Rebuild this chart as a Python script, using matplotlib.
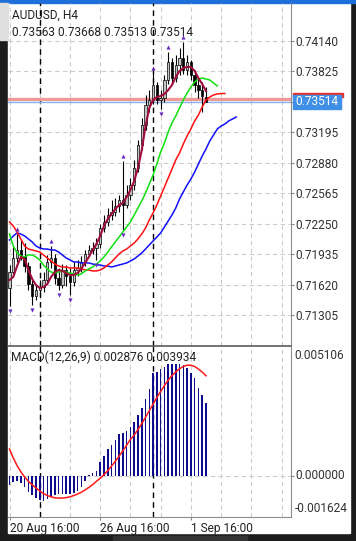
#!/usr/bin/env python3
"""AUDUSD H4 chart with Alligator, fractals and MACD (MT mobile look)."""

import numpy as np
import matplotlib
matplotlib.use("Agg")
import matplotlib.pyplot as plt
from matplotlib.patches import Rectangle

plt.rcParams['font.family'] = ['Roboto', 'DejaVu Sans']

# ---------------------------------------------------------------------------
# Data
# ---------------------------------------------------------------------------

symbol = "AUDUSD, H4"

opens = [0.71586, 0.71751, 0.71896, 0.71979, 0.71917, 0.71813, 0.71627, 0.71503,
         0.71565, 0.71596, 0.71669, 0.71855, 0.71896, 0.71689, 0.71617, 0.71772,
         0.71710, 0.71648, 0.71772, 0.71793, 0.71855, 0.71938, 0.71979, 0.72000,
         0.72041, 0.72206, 0.72268, 0.72341, 0.72372, 0.72434, 0.72496, 0.72444,
         0.72548, 0.72651, 0.72827, 0.73065, 0.73271, 0.73478, 0.73530, 0.73685,
         0.73530, 0.73551, 0.73737, 0.73923, 0.73757, 0.73892, 0.73964, 0.73840,
         0.73923, 0.73788, 0.73685, 0.73633, 0.73563]
highs = [0.71824, 0.72010, 0.72144, 0.72082, 0.72051, 0.71855, 0.71669, 0.71617,
         0.71669, 0.71751, 0.71927, 0.72020, 0.71938, 0.71793, 0.71834, 0.71824,
         0.71793, 0.71855, 0.71876, 0.71917, 0.71979, 0.72031, 0.72062, 0.72103,
         0.72248, 0.72341, 0.72413, 0.72496, 0.72517, 0.72548, 0.72899, 0.72651,
         0.72723, 0.72910, 0.73116, 0.73344, 0.73582, 0.73633, 0.73809, 0.73716,
         0.73633, 0.73788, 0.74026, 0.73964, 0.73995, 0.74068, 0.74130, 0.73995,
         0.73944, 0.73840, 0.73757, 0.73716, 0.73668]
lows = [0.71400, 0.71710, 0.71855, 0.71876, 0.71751, 0.71565, 0.71410, 0.71462,
        0.71503, 0.71545, 0.71627, 0.71793, 0.71627, 0.71565, 0.71586, 0.71607,
        0.71514, 0.71607, 0.71710, 0.71751, 0.71813, 0.71917, 0.71938, 0.71876,
        0.72000, 0.72165, 0.72227, 0.72289, 0.72331, 0.72372, 0.72186, 0.72413,
        0.72496, 0.72599, 0.72785, 0.73013, 0.73220, 0.73406, 0.73489, 0.73489,
        0.73437, 0.73509, 0.73695, 0.73695, 0.73716, 0.73788, 0.73799, 0.73788,
        0.73737, 0.73613, 0.73551, 0.73406, 0.73513]
closes = [0.71751, 0.71896, 0.71979, 0.71917, 0.71813, 0.71627, 0.71503, 0.71565,
          0.71596, 0.71669, 0.71855, 0.71896, 0.71689, 0.71617, 0.71772, 0.71710,
          0.71648, 0.71772, 0.71793, 0.71855, 0.71938, 0.71979, 0.72000, 0.72041,
          0.72206, 0.72268, 0.72341, 0.72372, 0.72434, 0.72496, 0.72444, 0.72548,
          0.72651, 0.72827, 0.73065, 0.73271, 0.73478, 0.73530, 0.73685, 0.73530,
          0.73551, 0.73737, 0.73923, 0.73757, 0.73892, 0.73964, 0.73840, 0.73923,
          0.73788, 0.73685, 0.73633, 0.73571, 0.73514]

# fast MA riding on the candles (maroon)
fast_ma = [0.71669, 0.71700, 0.71813, 0.71907, 0.71886, 0.71772, 0.71679, 0.71617,
           0.71586, 0.71596, 0.71627, 0.71700, 0.71751, 0.71772, 0.71762, 0.71741,
           0.71720, 0.71720, 0.71741, 0.71783, 0.71845, 0.71907, 0.71979, 0.72041,
           0.72124, 0.72227, 0.72300, 0.72351, 0.72403, 0.72444, 0.72465, 0.72527,
           0.72599, 0.72692, 0.72827, 0.73013, 0.73261, 0.73447, 0.73530, 0.73561,
           0.73571, 0.73592, 0.73633, 0.73685, 0.73768, 0.73830, 0.73861, 0.73871,
           0.73871, 0.73830, 0.73757, 0.73695, 0.73623]

# Alligator: jaw (blue, shifted 8), teeth (red, shifted 5), lips (green, shifted 3)
jaw = [0.72082, 0.72124, 0.72155, 0.72144, 0.72124, 0.72093, 0.72062, 0.72020,
       0.72000, 0.71989, 0.71989, 0.71979, 0.71979, 0.71958, 0.71927, 0.71896,
       0.71876, 0.71855, 0.71855, 0.71845, 0.71845, 0.71845, 0.71834, 0.71824,
       0.71824, 0.71813, 0.71813, 0.71803, 0.71813, 0.71824, 0.71834, 0.71845,
       0.71865, 0.71886, 0.71917, 0.71948, 0.71989, 0.72031, 0.72072, 0.72113,
       0.72155, 0.72217, 0.72279, 0.72341, 0.72413, 0.72506, 0.72579, 0.72651,
       0.72713, 0.72785, 0.72868, 0.72951, 0.73023, 0.73106, 0.73168, 0.73230,
       0.73261, 0.73282, 0.73313, 0.73333, 0.73354]
teeth = [0.72268, 0.72227, 0.72165, 0.72093, 0.72020, 0.71989, 0.71979, 0.71969,
         0.71958, 0.71927, 0.71896, 0.71865, 0.71834, 0.71813, 0.71803, 0.71803,
         0.71793, 0.71793, 0.71793, 0.71783, 0.71772, 0.71772, 0.71762, 0.71762,
         0.71772, 0.71793, 0.71824, 0.71855, 0.71896, 0.71938, 0.71969, 0.71989,
         0.72020, 0.72051, 0.72093, 0.72144, 0.72206, 0.72289, 0.72362, 0.72444,
         0.72537, 0.72630, 0.72723, 0.72816, 0.72910, 0.72982, 0.73075, 0.73158,
         0.73230, 0.73313, 0.73375, 0.73458, 0.73530, 0.73561, 0.73582, 0.73592,
         0.73597, 0.73597]
lips = [0.72144, 0.72020, 0.71948, 0.71917, 0.71907, 0.71927, 0.71927, 0.71907,
        0.71876, 0.71824, 0.71783, 0.71751, 0.71741, 0.71751, 0.71762, 0.71751,
        0.71741, 0.71731, 0.71720, 0.71731, 0.71762, 0.71783, 0.71803, 0.71834,
        0.71865, 0.71907, 0.71958, 0.72010, 0.72062, 0.72113, 0.72165, 0.72217,
        0.72268, 0.72341, 0.72413, 0.72486, 0.72568, 0.72661, 0.72754, 0.72868,
        0.72992, 0.73085, 0.73199, 0.73292, 0.73365, 0.73447, 0.73530, 0.73602,
        0.73664, 0.73716, 0.73747, 0.73757, 0.73747, 0.73737, 0.73706, 0.73675]

fractal_up = [2, 11, 30, 38, 42, 46]
fractal_down = [0, 6, 13, 16, 23, 30, 40]

ask_price = 0.73542
bid_price = 0.73514

price_ticks = [0.74140, 0.73825, 0.73510, 0.73195, 0.72880,
               0.72565, 0.72250, 0.71935, 0.71620, 0.71305]

week_separators = [8, 38]
time_ticks = [0, 24, 48]
time_labels = ["20 Aug 16:00", "26 Aug 16:00", "1 Sep 16:00"]

macd_main = [-0.00038, -0.00025, -0.00022, -0.00028, -0.00045, -0.00064, -0.00077, -0.00086,
             -0.00095, -0.00101, -0.00093, -0.00084, -0.00077, -0.00073, -0.00073, -0.00071,
             -0.00070, -0.00066, -0.00060, -0.00045, -0.00022, 0.00004, 0.00010, 0.00017,
             0.00054, 0.00079, 0.00105, 0.00122, 0.00141, 0.00164, 0.00168, 0.00177,
             0.00190, 0.00213, 0.00240, 0.00266, 0.00301, 0.00340, 0.00403, 0.00410,
             0.00419, 0.00427, 0.00439, 0.00439, 0.00439, 0.00439, 0.00436, 0.00425,
             0.00403, 0.00384, 0.00347, 0.00318, 0.002876]
macd_signal = [0.00105, 0.00070, 0.00040, 0.00015, -0.00005, -0.00022, -0.00036, -0.00048,
               -0.00060, -0.00070, -0.00078, -0.00083, -0.00087, -0.00088, -0.00088, -0.00086,
               -0.00083, -0.00078, -0.00072, -0.00065, -0.00056, -0.00046, -0.00035, -0.00022,
               -0.00010, 0.00004, 0.00020, 0.00038, 0.00057, 0.00077, 0.00098, 0.00120,
               0.00143, 0.00160, 0.00182, 0.00205, 0.00230, 0.00256, 0.00282, 0.00308,
               0.00332, 0.00355, 0.00376, 0.00394, 0.00409, 0.00421, 0.00430, 0.00435,
               0.00435, 0.00430, 0.00420, 0.00408, 0.003934]
macd_range = (-0.001624, 0.005106)

# ---------------------------------------------------------------------------
# Figure
# ---------------------------------------------------------------------------

W, H = 356, 541


def fx(x):
    return x / W


def fy(y):
    return 1 - y / H


fig = plt.figure(figsize=(W / 100, H / 100), dpi=100, facecolor="#1c1c1c")
fig.add_artist(Rectangle((fx(8), fy(533)), (350 - 8) / W, 530 / H,
                         transform=fig.transFigure, color="white", zorder=0))
fig.add_artist(Rectangle((0, fy(3)), 1, 3 / H, transform=fig.transFigure,
                         color="#1e6fd9", zorder=0))
fig.add_artist(Rectangle((0, fy(40)), fx(8), 37 / H, transform=fig.transFigure,
                         color="#dedede", zorder=0))
fig.add_artist(Rectangle((fx(113), 0), 134 / W, 5 / H, transform=fig.transFigure,
                         color="#333333", zorder=0))

grid_kw = dict(color="#cccccc", lw=0.8, ls=(0, (4, 3)), zorder=0)
sep_kw = dict(color="black", lw=1.0, ls=(0, (4, 3)), zorder=1)
xlim = (-0.4, 74.5)

# --- price panel -----------------------------------------------------------
ax = fig.add_axes([fx(8), fy(346), 283 / W, 343 / H])
ax.set_facecolor("none")
ax.set_xlim(*xlim)
ax.set_ylim(0.70986, 0.74533)

for x in range(0, 75, 8):
    ax.axvline(x, **grid_kw)
for p in price_ticks:
    ax.axhline(p, **grid_kw)
for x in week_separators:
    ax.axvline(x, **sep_kw)

ax.axhline(ask_price, color="#f29a9a", lw=2.4, zorder=1)
ax.axhline(bid_price, color="#8ab4ee", lw=1.0, zorder=1)

o, h, l, c = map(np.array, (opens, highs, lows, closes))
idx = np.arange(len(o))
ax.vlines(idx, l, h, color="black", lw=0.8, zorder=3)
body = np.maximum(np.abs(c - o), 0.00003)
ax.bar(idx, body, bottom=np.minimum(o, c), width=0.62,
       color=np.where(c >= o, "#c4c4c4", "black"), edgecolor="black",
       linewidth=0.5, zorder=4)

ax.plot(np.arange(len(jaw)), jaw, color="#1010ff", lw=1.1, zorder=5)
ax.plot(np.arange(len(teeth)), teeth, color="#ff1010", lw=1.1, zorder=5)
ax.plot(np.arange(len(lips)), lips, color="#10e010", lw=1.1, zorder=5)
ax.plot(idx, fast_ma, color="#a00c3c", lw=1.5, zorder=6)

ax.scatter(fractal_up, h[fractal_up] + 0.0005, marker="^", s=9,
           color="#6a2bc4", zorder=7, linewidths=0)
ax.scatter(fractal_down, l[fractal_down] - 0.0005, marker="v", s=9,
           color="#6a2bc4", zorder=7, linewidths=0)

# the label under the current-price tag is hidden in the app
ax.yaxis.tick_right()
ax.set_yticks(price_ticks)
ax.set_yticklabels(["" if abs(p - bid_price) < 0.0002 else f"{p:.5f}" for p in price_ticks])
ax.tick_params(axis="y", length=2.2, width=0.8, color="#888888", pad=0.6,
               labelsize=8.6, labelcolor="#333333")
ax.set_xticks([])
for s in ("left", "top"):
    ax.spines[s].set_visible(False)
ax.spines["right"].set_color("#8c8c8c")
ax.spines["bottom"].set_color("#5a5a5a")
ax.spines["bottom"].set_linewidth(1.2)

fig.text(fx(12), fy(15), symbol, ha="left", va="center", fontsize=8.6, color="#222222")
fig.text(fx(12), fy(33), f"{opens[-1]:.5f} {highs[-1]:.5f} {lows[-1]:.5f} {closes[-1]:.5f}",
         ha="left", va="center", fontsize=8.6, color="#222222")

# current-price tag
fig.add_artist(Rectangle((fx(293), fy(96.5)), 50 / W, 4 / H, transform=fig.transFigure,
                         color="#e8302a", zorder=5))
fig.add_artist(Rectangle((fx(293), fy(108.5)), 48 / W, 14 / H, transform=fig.transFigure,
                         color="#3f8fe6", zorder=6))
fig.text(fx(317), fy(101.5), f"{bid_price:.5f}", ha="center", va="center",
         fontsize=8.6, color="white", zorder=7)

# --- MACD panel --------------------------------------------------------------
ax2 = fig.add_axes([fx(8), fy(517), 283 / W, 171 / H])
ax2.set_facecolor("none")
ax2.set_xlim(*xlim)
ax2.set_ylim(*macd_range)

for x in range(0, 75, 8):
    ax2.axvline(x, **grid_kw)
for x in week_separators:
    ax2.axvline(x, **sep_kw)
ax2.axhline(0, **grid_kw)

ax2.bar(np.arange(len(macd_main)), macd_main, width=0.42, color="#0c0c8c", zorder=3)
ax2.plot(np.arange(len(macd_signal)), macd_signal, color="#ff1a1a", lw=1.1, zorder=4)

ax2.yaxis.tick_right()
ax2.set_yticks([0])
ax2.set_yticklabels([""])
ax2.tick_params(axis="y", length=2.2, width=0.8, color="#888888")
lab_kw = dict(xycoords=("axes fraction", "data"), textcoords="offset points",
              ha="left", fontsize=8.6, color="#333333", annotation_clip=False)
ax2.annotate(f"{macd_range[1]:.6f}", xy=(1, macd_range[1]), xytext=(2.5, -2.5), va="top", **lab_kw)
ax2.annotate(f"{0:.6f}", xy=(1, 0), xytext=(3, 0), va="center", **lab_kw)
ax2.annotate(f"{macd_range[0]:.6f}", xy=(1, macd_range[0]), xytext=(2.5, 1.5), va="bottom", **lab_kw)

ax2.set_xticks(time_ticks)
ax2.set_xticklabels(time_labels, ha="left")
ax2.tick_params(axis="x", length=2.2, width=0.8, color="#888888", pad=1.2,
                labelsize=8.6, labelcolor="#222222")
for s in ("left", "top"):
    ax2.spines[s].set_visible(False)
ax2.spines["right"].set_color("#8c8c8c")
ax2.spines["bottom"].set_color("#8c8c8c")

fig.text(fx(11), fy(357), f"MACD(12,26,9) {macd_main[-1]:.6f} {macd_signal[-1]:.6f}",
         ha="left", va="center", fontsize=8.6, color="#222222")

fig.savefig("out.png", dpi=100, facecolor=fig.get_facecolor())
